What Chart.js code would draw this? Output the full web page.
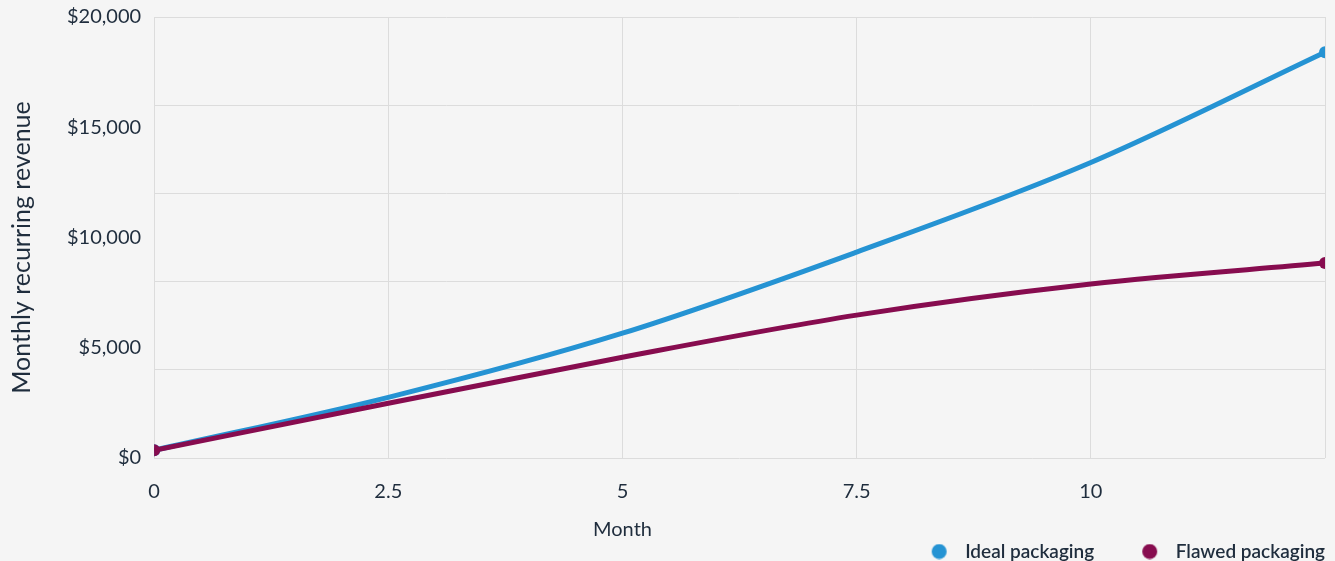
<!DOCTYPE html>
<html>
<head>
<meta charset="utf-8">
<script src="https://cdn.jsdelivr.net/npm/chart.js@4.4.1/dist/chart.umd.min.js"></script>
<style>
    html, body { margin: 0; padding: 0; background: #f5f5f5; overflow: hidden; }
    #wrap { width: 1335px; height: 561px; position: relative; }
</style>
</head>
<body>
<div id="wrap"><canvas id="mrrChart"></canvas></div>
<script>
// ============================================
// MRR: IDEAL vs FLAWED PACKAGING
// ============================================

const months = [0, 2.5, 5, 7.5, 10, 12.5];
const idealRevenue = [350, 2750, 5660, 9340, 13400, 18400];
const flawedRevenue = [350, 2480, 4570, 6480, 7890, 8840];
const monthTicks = [0, 2.5, 5, 7.5, 10];
const revenueTicks = [0, 5000, 10000, 15000, 20000];
const seriesLabels = ['Ideal packaging', 'Flawed packaging'];
const seriesColors = ['#2593d3', '#870c4f'];

const textColor = '#1f2d3d';
const gridColor = '#dcdcdc';
const fontFamily = 'Lato, "Open Sans", sans-serif';

function toPoints(values) {
    return months.map(function(m, i) { return { x: m, y: values[i] }; });
}

function endPoints(ctx) {
    const last = ctx.dataset.data.length - 1;
    return (ctx.dataIndex === 0 || ctx.dataIndex === last) ? 6 : 0;
}

// legend marker: dot with some blank lead-in so the items sit apart like the original
function legendMarker(color) {
    const c = document.createElement('canvas');
    c.width = 72;
    c.height = 16;
    const g = c.getContext('2d');
    g.fillStyle = color;
    g.beginPath();
    g.arc(55.5, 8, 7.5, 0, Math.PI * 2);
    g.fill();
    return c;
}

// the original centres "Month" under 0..10 and drops the y title a bit lower
const titleSpan = {
    id: 'titleSpan',
    afterLayout: function(chart) {
        const xTitle = chart.scales.xTitle;
        const yTitle = chart.scales.yTitle;
        xTitle.right = chart.scales.x.getPixelForValue(monthTicks[monthTicks.length - 1]);
        yTitle.bottom = yTitle.bottom + 20;
    }
};

function hiddenAxis(extra) {
    return Object.assign({
        min: 0,
        grid: { display: false, drawTicks: false },
        border: { display: false },
        ticks: { display: false }
    }, extra);
}

document.addEventListener('DOMContentLoaded', function() {
    const ctx = document.getElementById('mrrChart').getContext('2d');
    const markers = seriesColors.map(legendMarker);

    new Chart(ctx, {
        type: 'line',
        data: {
            datasets: [{
                label: seriesLabels[0],
                data: toPoints(idealRevenue),
                borderColor: seriesColors[0],
                backgroundColor: seriesColors[0],
                borderWidth: 5,
                pointBorderWidth: 0,
                pointRadius: endPoints,
                pointHoverRadius: endPoints,
                cubicInterpolationMode: 'monotone',
                order: 1
            }, {
                label: seriesLabels[1],
                data: toPoints(flawedRevenue),
                borderColor: seriesColors[1],
                backgroundColor: seriesColors[1],
                borderWidth: 5,
                pointBorderWidth: 0,
                pointRadius: endPoints,
                pointHoverRadius: endPoints,
                cubicInterpolationMode: 'monotone',
                order: 0
            }]
        },
        plugins: [titleSpan],
        options: {
            responsive: true,
            maintainAspectRatio: false,
            animation: false,
            layout: {
                autoPadding: false,
                padding: { left: 7, right: 10, top: 17, bottom: -10 }
            },
            plugins: {
                tooltip: { enabled: false },
                legend: {
                    position: 'bottom',
                    align: 'end',
                    labels: {
                        usePointStyle: true,
                        pointStyleWidth: 72,
                        boxHeight: 11,
                        padding: 0,
                        color: textColor,
                        font: { family: fontFamily, size: 19, weight: '600' },
                        generateLabels: function(chart) {
                            const items = Chart.defaults.plugins.legend.labels.generateLabels(chart);
                            items.forEach(function(item) { item.pointStyle = markers[item.datasetIndex]; });
                            return items;
                        },
                        sort: function(a, b) { return a.datasetIndex - b.datasetIndex; }
                    }
                }
            },
            scales: {
                x: {
                    type: 'linear',
                    min: 0,
                    max: 12.5,
                    grid: { color: gridColor, tickColor: 'transparent', tickLength: 22 },
                    border: { display: false },
                    afterBuildTicks: function(axis) {
                        axis.ticks = months.map(function(v) { return { value: v }; });
                    },
                    ticks: {
                        padding: 0,
                        maxRotation: 0,
                        color: textColor,
                        font: { family: fontFamily, size: 20 },
                        callback: function(v) { return monthTicks.includes(v) ? String(v) : ''; }
                    }
                },
                xTitle: hiddenAxis({
                    type: 'linear',
                    position: 'bottom',
                    weight: 1,
                    max: 12.5,
                    title: {
                        display: true,
                        text: 'Month',
                        color: textColor,
                        font: { family: fontFamily, size: 20 },
                        padding: { top: 14, bottom: 0 }
                    }
                }),
                y: {
                    min: 0,
                    max: 20000,
                    grid: { display: false, tickLength: 13 },
                    border: { display: false },
                    afterBuildTicks: function(axis) {
                        axis.ticks = revenueTicks.map(function(v) { return { value: v }; });
                    },
                    ticks: {
                        padding: 0,
                        color: textColor,
                        font: { family: fontFamily, size: 20 },
                        callback: function(v) { return '$' + v.toLocaleString('en-US'); }
                    }
                },
                yTitle: hiddenAxis({
                    position: 'left',
                    weight: 1,
                    max: 20000,
                    title: {
                        display: true,
                        text: 'Monthly recurring revenue',
                        color: textColor,
                        font: { family: fontFamily, size: 25 },
                        padding: { top: 0, bottom: 30 }
                    }
                }),
                yGrid: {
                    position: 'left',
                    min: 0,
                    max: 20000,
                    grid: { color: gridColor, drawTicks: false },
                    border: { display: false },
                    ticks: { display: false, stepSize: 4000 }
                }
            }
        }
    });
});
</script>
</body>
</html>
